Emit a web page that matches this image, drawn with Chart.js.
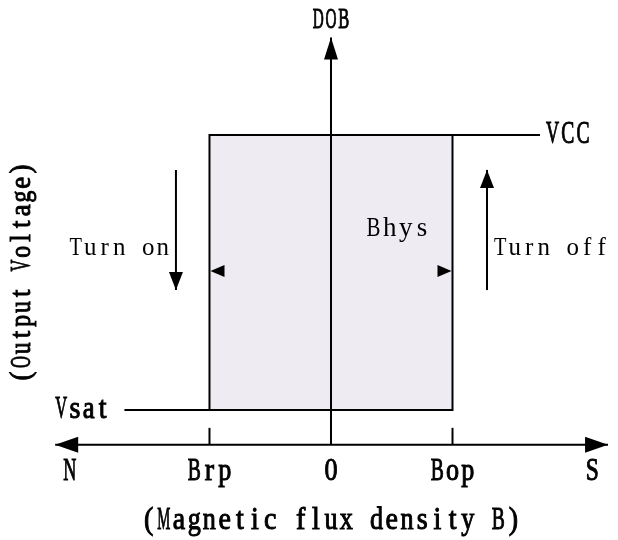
<!DOCTYPE html>
<html lang="en">
<head>
<meta charset="UTF-8" />
<title>Hall switch hysteresis</title>
<script src="https://cdn.jsdelivr.net/npm/chart.js"></script>
<style>
  body { margin: 0; background: #fff; }
  #wrap { width: 618px; height: 540px; }
</style>
</head>
<body>
<div id="wrap"><canvas id="hyst" width="618" height="540"></canvas></div>
<script>
// ---- data (B in units of Bop, output in units of VCC) ----
const bLabels = ['N', 'Brp', '0', 'Bop', 'S'];
const bValues = [-2.15, -1, 0, 1, 2.15];
const levelLabels = ['Vsat', 'VCC'];
const levelValues = [0, 1];
const vsatFrom = -1.7;      // where the low output line starts
const vccTo = 1.72;         // where the high output line ends
const bAxisEnds = [-2.27, 2.28];
const outAxisEnds = [-0.127, 1.355];
const turnLabels = ['Turn on', 'Turn off'];
const turnB = [-1.276, 1.284];
const turnFrom = [0.873, 0.436];
const turnTo = [0.436, 0.873];
const bhysLevel = 0.505;

const brp = bValues[1], bop = bValues[3];
const vsat = levelValues[0], vcc = levelValues[1];

const line = (pts) => ({
  data: pts,
  showLine: true,
  borderColor: '#000',
  borderWidth: 2,
  pointRadius: 0,
  fill: false,
  tension: 0
});

const datasets = [
  // output curve
  line([{x: vsatFrom, y: vsat}, {x: bop, y: vsat}, {x: bop, y: vcc}, {x: vccTo, y: vcc}]),
  line([{x: bop, y: vcc}, {x: brp, y: vcc}, {x: brp, y: vsat}]),
  // axes
  line([{x: bAxisEnds[0], y: outAxisEnds[0]}, {x: bAxisEnds[1], y: outAxisEnds[0]}]),
  line([{x: 0, y: outAxisEnds[0]}, {x: 0, y: outAxisEnds[1]}]),
  // direction arrows
  line([{x: turnB[0], y: turnFrom[0]}, {x: turnB[0], y: turnTo[0]}]),
  line([{x: turnB[1], y: turnFrom[1]}, {x: turnB[1], y: turnTo[1]}]),
  // hysteresis area
  Object.assign(line([{x: brp, y: vcc}, {x: bop, y: vcc}]), {
    borderWidth: 0, fill: 'origin', backgroundColor: '#EEEBF3'
  })
];

// serif text in fixed-width cells, wide glyphs squeezed (half-width CJK look)
function text(ctx, str, x, y, o) {
  const w = o.cell * str.length;
  let left = -w / 2;
  if (o.align === 'left') left = 0;
  if (o.align === 'right') left = -w;
  ctx.save();
  ctx.translate(x, y);
  if (o.rot) ctx.rotate(o.rot);
  ctx.scale(1, o.stretch || 1);
  ctx.font = o.size + 'px "Liberation Serif"';
  ctx.textAlign = 'center';
  ctx.textBaseline = 'middle';
  ctx.fillStyle = '#000';
  ctx.strokeStyle = '#000';
  [...str].forEach((c, i) => {
    const gw = ctx.measureText(c).width;
    const sq = Math.min(1, (o.cell * 0.86) / (gw || 1));
    ctx.save();
    ctx.translate(left + o.cell * (i + 0.5), 0);
    ctx.scale(sq, 1);
    ctx.fillText(c, 0, 0);
    if (o.weight) {
      ctx.lineWidth = o.weight;
      ctx.strokeText(c, 0, 0);
    }
    ctx.restore();
  });
  ctx.restore();
}

function head(ctx, x, y, dir, len, half) {
  // dir: unit vector the arrow points to, tip at (x, y)
  const [dx, dy] = dir;
  ctx.beginPath();
  ctx.moveTo(x, y);
  ctx.lineTo(x - dx * len - dy * half, y - dy * len + dx * half);
  ctx.lineTo(x - dx * len + dy * half, y - dy * len - dx * half);
  ctx.closePath();
  ctx.fill();
}

const LABEL = { size: 28, cell: 15.2, stretch: 1.12, weight: 0.9 };
const NOTE = { size: 25, cell: 14.5, stretch: 1.05, weight: 0 };

const diagram = {
  id: 'diagram',
  afterDatasetsDraw(chart) {
    const ctx = chart.ctx;
    const xs = chart.scales.x, ys = chart.scales.y;
    const px = v => xs.getPixelForValue(v);
    const py = v => ys.getPixelForValue(v);
    const axisY = py(outAxisEnds[0]);
    ctx.save();
    ctx.fillStyle = '#000';
    ctx.strokeStyle = '#000';
    ctx.lineWidth = 2;

    // axis arrowheads
    head(ctx, px(bAxisEnds[0]), axisY, [-1, 0], 23, 8);
    head(ctx, px(bAxisEnds[1]), axisY, [1, 0], 23, 8);
    head(ctx, px(0), py(outAxisEnds[1]), [0, -1], 22, 7);

    // threshold ticks
    [brp, bop].forEach(b => {
      ctx.beginPath();
      ctx.moveTo(px(b), axisY);
      ctx.lineTo(px(b), axisY - 17);
      ctx.stroke();
    });

    // switching arrows
    head(ctx, px(turnB[0]), py(turnTo[0]), [0, 1], 18, 7);
    head(ctx, px(turnB[1]), py(turnTo[1]), [0, -1], 18, 7);

    // Bhys markers
    head(ctx, px(brp) + 1, py(bhysLevel), [-1, 0], 14, 6);
    head(ctx, px(bop) - 1, py(bhysLevel), [1, 0], 14, 6);

    // labels
    text(ctx, 'DOB', px(0), 20, { ...LABEL, size: 26, cell: 12.8 });
    text(ctx, levelLabels[1], px(vccTo) + 5, py(vcc), { ...LABEL, align: 'left' });
    text(ctx, levelLabels[0], px(vsatFrom) - 15, py(vsat), { ...LABEL, cell: 13.8, align: 'right' });
    bLabels.forEach((l, i) => text(ctx, l, px(bValues[i]), axisY + 27, LABEL));
    text(ctx, '(Magnetic flux density B)', px(0), axisY + 76, LABEL);
    text(ctx, '(Output Voltage)', 22, (py(vsat) + py(vcc)) / 2,
      { ...LABEL, size: 27, cell: 13.8, rot: -Math.PI / 2 });

    const mid = (py(turnFrom[0]) + py(turnTo[0])) / 2 + 18;
    text(ctx, turnLabels[0], px(turnB[0]) - 6, mid, { ...NOTE, align: 'right' });
    text(ctx, turnLabels[1], px(turnB[1]) + 6, mid, { ...NOTE, align: 'left' });
    text(ctx, 'Bhys', (px(0) + px(bop)) / 2 + 6, py(bhysLevel) - 43, { ...NOTE, size: 27, cell: 16.2 });
    ctx.restore();
  }
};

new Chart(document.getElementById('hyst'), {
  type: 'scatter',
  data: { datasets },
  options: {
    responsive: false,
    animation: false,
    layout: { padding: 0 },
    plugins: { legend: { display: false }, tooltip: { enabled: false } },
    scales: {
      x: { type: 'linear', display: false, min: -2.724, max: 2.362 },
      y: { type: 'linear', display: false, min: -0.473, max: 1.491 }
    }
  },
  plugins: [diagram]
});
</script>
</body>
</html>
